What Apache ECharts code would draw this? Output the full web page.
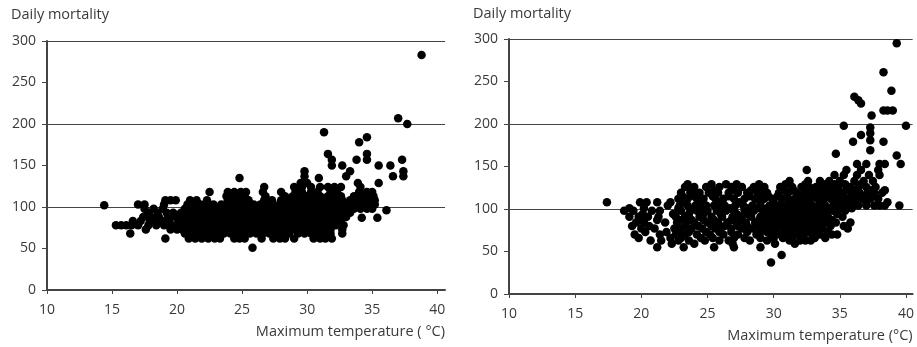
<!DOCTYPE html>
<html>
<head>
<meta charset="utf-8">
<script src="https://cdn.jsdelivr.net/npm/echarts@6/dist/echarts.min.js"></script>
<style>
  html, body { margin: 0; padding: 0; background: #fff; }
  #main { width: 917px; height: 347px; }
</style>
</head>
<body>
<div id="main"></div>
<script>
// tick labels
var xTicks = [10, 15, 20, 25, 30, 35, 40];
var yTicks = [0, 50, 100, 150, 200, 250, 300];

// left panel: rows of [daily mortality, [max temperatures]]
var leftRows = [
  [51, [25.8]],
  [62, [19.1, 20.9, 21.4, 21.9, 22.4, 22.9, 23.3, 24.4, 24.8, 25.2, 26.5, 27.4, 27.9, 28.3, 29.0, 30.5, 31.0, 31.4, 31.9]],
  [68, [16.4, 20.6, 21.1, 21.6, 22.1, 22.6, 23.1, 23.6, 24.1, 24.6, 25.1, 25.6, 26.1, 26.6, 27.1, 27.6, 28.1, 28.6, 29.3, 29.8, 30.3, 30.8, 31.3, 31.8, 32.7]],
  [73, [17.6, 19.5, 20.0, 20.4, 20.9, 21.4, 21.9, 22.4, 22.9, 23.4, 23.9, 24.4, 24.9, 25.4, 25.9, 26.4, 26.9, 27.4, 27.9, 28.4, 28.9, 29.4, 29.9, 30.4, 30.9, 31.4, 31.8, 32.7]],
  [78, [15.3, 15.7, 16.1, 16.5, 17.0, 17.8, 18.4, 19.0, 19.6, 20.2, 20.7, 21.2, 21.7, 22.2, 22.7, 23.2, 23.7, 24.2, 24.7, 25.2, 25.7, 26.2, 26.7, 27.2, 27.7, 28.2, 28.7, 29.2, 29.7, 30.2, 30.7, 31.2, 31.7, 32.2, 32.8]],
  [83, [16.6, 17.2, 17.9, 18.3, 18.9, 19.4, 20.1, 20.6, 21.1, 21.6, 22.1, 22.6, 23.1, 23.6, 24.1, 24.6, 25.1, 25.6, 26.1, 26.6, 27.1, 27.6, 28.1, 28.6, 29.1, 29.6, 30.1, 30.6, 31.1, 31.6, 32.1, 32.6]],
  [87, [34.2, 35.4]],
  [88, [17.4, 18.0, 18.6, 19.3, 19.9, 20.4, 20.9, 21.4, 21.9, 22.4, 22.9, 23.4, 23.9, 24.4, 24.9, 25.4, 25.9, 26.4, 26.9, 27.4, 27.9, 28.4, 28.9, 29.4, 29.9, 30.4, 30.9, 31.4, 31.9, 32.5, 33.0]],
  [93, [17.8, 18.5, 19.2, 19.7, 20.3, 20.8, 21.3, 21.8, 22.3, 22.8, 23.3, 23.8, 24.3, 24.8, 25.3, 25.8, 26.3, 26.8, 27.3, 27.8, 28.3, 28.8, 29.3, 29.8, 30.3, 30.8, 31.3, 31.8, 32.3, 32.8, 33.3]],
  [96, [36.1]],
  [98, [17.5, 18.2, 18.9, 20.6, 21.1, 21.6, 22.1, 22.6, 23.1, 23.6, 24.1, 24.6, 25.1, 25.6, 26.1, 26.6, 27.1, 27.6, 28.1, 28.6, 29.1, 29.6, 30.1, 30.6, 31.1, 31.6, 32.1, 32.6, 33.1, 33.6, 34.1, 34.6, 35.0]],
  [102, [14.4]],
  [103, [17.0, 17.5, 19.0, 20.8, 21.3, 21.8, 22.3, 22.8, 23.4, 23.9, 24.4, 24.9, 25.4, 25.9, 26.4, 26.9, 27.4, 27.9, 28.4, 28.9, 29.4, 29.9, 30.4, 30.9, 31.4, 31.9, 32.4, 32.9, 33.4, 33.9, 34.4, 34.9, 35.2]],
  [108, [19.1, 19.5, 19.9, 21.0, 21.5, 22.3, 23.9, 24.3, 24.7, 25.1, 25.5, 26.7, 27.3, 28.0, 28.6, 29.2, 29.7, 30.2, 30.7, 31.2, 31.7, 32.2, 32.7, 33.3, 33.8, 34.3, 34.8, 35.2]],
  [113, [23.8, 24.3, 24.8, 25.2, 26.8, 28.3, 28.9, 29.4, 30.0, 30.5, 31.0, 31.6, 32.1, 32.6, 33.6, 34.2, 34.7, 35.1]],
  [118, [22.5, 23.9, 24.4, 24.9, 25.3, 26.6, 28.0, 29.1, 29.6, 30.3, 30.8, 31.8, 32.3, 34.0, 34.6, 35.0]],
  [124, [26.7, 29.0, 29.6, 30.3, 31.0, 31.6, 32.1, 32.6, 34.1]],
  [129, [29.5, 30.0, 33.9, 35.5]],
  [135, [24.8, 30.9]],
  [137, [29.8, 33.0, 36.6, 37.4]],
  [143, [29.8, 33.3, 37.4]],
  [150, [31.9, 32.7, 35.5, 36.4]],
  [157, [31.9, 33.8, 34.6, 37.3]],
  [164, [31.6, 34.6]],
  [178, [34.0]],
  [184, [34.6]],
  [190, [31.3]],
  [200, [37.7]],
  [207, [37.0]],
  [283, [38.8]]
];

// right panel: rows of [daily mortality, [max temperatures]]
var rightRows = [
  [37, [29.8]],
  [46, [30.6]],
  [55, [21.2, 23.2, 25.5, 27.0, 29.0]],
  [59, [22.3, 24.0, 26.9, 30.1, 31.6]],
  [63, [20.7, 21.5, 22.8, 23.6, 24.8, 25.9, 26.6, 28.2, 29.5, 31.2, 32.0, 32.4, 32.8]],
  [66, [19.8, 22.2, 23.0, 24.5, 25.4, 27.0, 27.8, 29.0, 30.0, 30.7, 31.4, 33.1, 33.9]],
  [70, [19.5, 21.4, 22.6, 23.3, 24.2, 25.2, 26.2, 27.3, 28.7, 29.8, 30.5, 31.0, 31.8, 32.3, 32.9, 33.5, 34.4, 34.8]],
  [73, [20.3, 21.9, 22.9, 23.6, 24.9, 25.9, 26.8, 28.0, 29.0, 29.5, 30.0, 30.9, 31.4, 31.9, 32.4, 33.0, 33.4, 34.1]],
  [77, [20.0, 21.0, 22.5, 23.0, 23.8, 24.6, 25.6, 26.0, 26.8, 27.6, 28.4, 29.2, 29.6, 30.2, 30.8, 31.3, 31.7, 32.2, 32.6, 33.1, 33.7, 35.6]],
  [80, [19.3, 20.6, 23.3, 24.3, 25.3, 26.3, 27.3, 28.0, 28.8, 29.5, 30.0, 30.5, 31.0, 31.5, 32.0, 32.5, 33.0, 33.5, 34.3, 35.3]],
  [84, [19.6, 20.2, 21.8, 22.7, 23.4, 24.0, 25.0, 25.8, 26.5, 27.2, 27.9, 28.6, 29.3, 29.8, 30.3, 30.8, 31.3, 31.8, 32.3, 32.8, 33.3, 34.0, 34.7, 35.8]],
  [87, [19.9, 21.2, 22.9, 23.8, 24.7, 25.5, 26.8, 27.6, 28.9, 29.6, 30.1, 30.6, 31.1, 31.6, 32.1, 32.6, 33.1, 33.8, 34.4]],
  [91, [19.1, 19.8, 20.5, 21.3, 22.6, 23.3, 24.4, 25.3, 26.1, 26.9, 27.5, 28.3, 29.0, 29.5, 30.0, 30.5, 31.0, 31.5, 32.0, 32.5, 33.0, 33.6, 34.1, 35.2]],
  [94, [20.1, 22.4, 23.6, 24.7, 26.0, 27.2, 28.0, 29.3, 29.8, 30.3, 30.8, 31.3, 31.8, 32.3, 32.8, 33.3, 34.0, 34.8]],
  [98, [18.7, 19.4, 20.8, 21.4, 23.0, 23.7, 24.2, 25.0, 25.7, 26.4, 27.0, 27.8, 28.5, 29.2, 29.7, 30.2, 30.7, 31.2, 31.7, 32.2, 32.7, 33.2, 33.8, 34.5, 35.4]],
  [101, [19.1, 20.2, 22.8, 24.0, 24.6, 26.0, 26.7, 28.0, 28.8, 29.5, 30.0, 30.5, 31.0, 31.5, 32.0, 32.5, 33.0, 33.6, 34.2, 35.0, 35.9]],
  [104, [22.0, 22.9, 23.5, 24.1, 24.9, 25.5, 26.3, 27.1, 27.7, 28.4, 29.0, 29.7, 30.4, 30.9, 31.4, 31.9, 32.4, 32.9, 33.4, 33.9, 34.5, 35.1, 35.7, 36.4, 37.0, 37.6, 38.0, 38.4, 39.5]],
  [108, [17.4, 19.9, 20.4, 21.2, 22.2, 23.3, 24.5, 26.0, 27.4, 29.0, 30.0, 31.3, 32.0, 32.6, 33.6, 34.6, 35.3, 36.0, 37.0, 38.6]],
  [112, [22.8, 23.5, 24.2, 24.7, 25.6, 26.2, 27.0, 27.8, 28.6, 29.3, 29.9, 30.6, 31.1, 31.6, 32.2, 32.8, 33.3, 33.8, 34.3, 34.9, 35.6, 36.2, 36.7, 37.3, 37.9]],
  [115, [23.1, 24.0, 25.4, 26.6, 28.2, 29.0, 29.6, 30.3, 31.0, 31.8, 32.5, 33.1, 34.0, 34.6, 35.3, 36.0, 36.9, 37.5]],
  [119, [23.0, 23.7, 24.4, 25.1, 25.8, 26.6, 27.3, 28.0, 28.8, 29.5, 30.4, 31.1, 31.7, 32.3, 32.9, 33.5, 34.1, 34.6, 35.1, 35.9, 36.5, 37.1, 37.6, 38.2]],
  [122, [23.9, 25.5, 27.0, 28.3, 29.1, 30.8, 31.5, 32.5, 33.3, 34.0, 34.7, 35.5, 36.2, 37.3, 38.4]],
  [126, [23.3, 24.0, 24.9, 25.9, 26.8, 27.6, 28.5, 29.3, 30.5, 31.4, 32.1, 32.7, 33.2, 33.7, 34.3, 34.9, 35.8, 36.4, 37.0, 37.7]],
  [129, [23.5, 25.3, 26.4, 27.2, 28.9, 30.9, 32.4, 33.9, 34.6, 35.4, 36.6]],
  [133, [31.2, 32.6, 33.5, 34.2, 35.0, 36.1, 36.8, 37.5]],
  [140, [34.6, 35.3, 36.3, 37.2, 38.0]],
  [146, [32.5, 35.5, 36.6, 37.9]],
  [153, [36.3, 37.0, 38.0, 38.4, 39.6]],
  [163, [39.3]],
  [165, [34.7]],
  [169, [37.3]],
  [179, [36.0, 38.3]],
  [181, [37.3]],
  [187, [36.6]],
  [189, [37.3]],
  [196, [37.3]],
  [198, [35.3, 40.0]],
  [210, [37.4]],
  [216, [38.3, 38.6, 39.0]],
  [224, [36.6]],
  [228, [36.4]],
  [232, [36.1]],
  [239, [38.9]],
  [261, [38.3]],
  [295, [39.3]]
];

function toPoints(rows) {
  var pts = [];
  rows.forEach(function (r) {
    r[1].forEach(function (t) { pts.push([t, r[0]]); });
  });
  return pts;
}

var font = 'Open Sans';
var txt = '#3a3a3a';
var axisCol = '#444';

function xAxisOpt(idx, max, name) {
  return {
    gridIndex: idx, type: 'value', min: 10, max: max, interval: 5,
    name: name, nameLocation: 'end', nameGap: 0,
    nameTextStyle: { align: 'right', verticalAlign: 'top', padding: [34, 0, 0, 0],
      fontFamily: font, fontSize: 14.5, color: txt },
    axisLine: { show: true, onZero: false, lineStyle: { color: axisCol, width: 2 } },
    axisTick: { show: true, length: 4, customValues: xTicks, lineStyle: { color: axisCol } },
    axisLabel: { customValues: xTicks, margin: 13, fontFamily: font, fontSize: 14, color: txt },
    splitLine: { show: false }
  };
}

function yAxisOpt(idx) {
  return {
    gridIndex: idx, type: 'value', min: 0, max: 300, interval: 50,
    axisLine: { show: true, onZero: false, lineStyle: { color: axisCol, width: 2 } },
    axisTick: { show: true, length: 5, lineStyle: { color: axisCol } },
    axisLabel: { margin: 11, fontFamily: font, fontSize: 14, color: txt },
    // grid lines only at 100, 200, 300 (0 sits under the x axis)
    splitLine: { show: true, lineStyle: { color: [axisCol, 'rgba(0,0,0,0)'], width: 1.2 } }
  };
}

var chart = echarts.init(document.getElementById('main'));
chart.setOption({
  animation: false,
  backgroundColor: '#fff',
  title: [
    { text: 'Daily mortality', left: 11, top: 7, padding: 0,
      textStyle: { fontFamily: font, fontSize: 14.5, fontWeight: 'normal', color: txt } },
    { text: 'Daily mortality', left: 473, top: 6, padding: 0,
      textStyle: { fontFamily: font, fontSize: 14.5, fontWeight: 'normal', color: txt } }
  ],
  grid: [
    { left: 47, top: 41, width: 398, height: 249 },
    { left: 509, top: 39, width: 408, height: 255 }
  ],
  xAxis: [
    xAxisOpt(0, 40.6, 'Maximum temperature ( °C)'),
    xAxisOpt(1, 40.5, 'Maximum temperature (°C)')
  ],
  yAxis: [yAxisOpt(0), yAxisOpt(1)],
  series: [
    { type: 'scatter', xAxisIndex: 0, yAxisIndex: 0, symbol: 'circle', symbolSize: 8.5,
      itemStyle: { color: '#000', opacity: 1 }, data: toPoints(leftRows) },
    { type: 'scatter', xAxisIndex: 1, yAxisIndex: 1, symbol: 'circle', symbolSize: 8.5,
      itemStyle: { color: '#000', opacity: 1 }, data: toPoints(rightRows) }
  ]
});
</script>
</body>
</html>
